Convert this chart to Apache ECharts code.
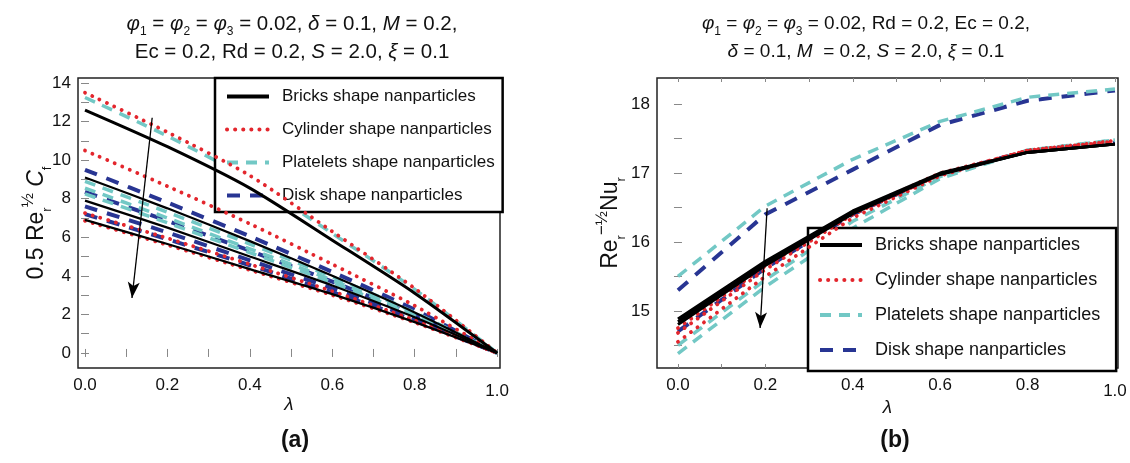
<!DOCTYPE html>
<html><head><meta charset="utf-8">
<script src="https://cdn.jsdelivr.net/npm/echarts@6/dist/echarts.min.js"></script>
<style>html,body{margin:0;padding:0;background:#fff}#c{width:1130px;height:463px}</style>
</head><body><div id="c"></div>
<script>
// ---------- data ----------
const lambda = [0, 0.2, 0.4, 0.6, 0.8, 1.0];
const xTickLabels = [0, 0.2, 0.4, 0.6, 0.8, 1.0];
const xTicks = [0, 0.1, 0.2, 0.3, 0.4, 0.5, 0.6, 0.7, 0.8, 0.9, 1.0];
const cfTickLabels = [0, 2, 4, 6, 8, 10, 12, 14];
const cfTicks = [0, 1, 2, 3, 4, 5, 6, 7, 8, 9, 10, 11, 12, 13, 14];
const nuTickLabels = [15, 16, 17, 18];
const nuTicks = [14.5, 15, 15.5, 16, 16.5, 17, 17.5, 18];
const shapeNames = ['Bricks shape nanparticles', 'Cylinder shape nanparticles', 'Platelets shape nanparticles', 'Disk shape nanparticles'];

// (a) skin friction 0.5 Re^(1/2) Cf
const cfBricks = [
  [12.6, 10.7, 8.55, 5.85, 3.1, 0],
  [9.1, 7.5, 5.8, 4.0, 2.1, 0],
  [7.9, 6.5, 5.0, 3.5, 1.85, 0],
  [6.9, 5.65, 4.35, 3.05, 1.6, 0]
];
const cfCylinder = [
  [13.5, 11.45, 9.2, 6.3, 3.35, 0],
  [10.5, 8.65, 6.7, 4.6, 2.45, 0],
  [7.25, 5.95, 4.6, 3.2, 1.7, 0],
  [6.85, 5.6, 4.3, 3.0, 1.58, 0]
];
const cfPlatelets = [
  [13.25, 11.25, 9.0, 6.2, 3.3, 0],
  [8.9, 7.3, 5.65, 3.95, 2.1, 0],
  [8.55, 7.0, 5.4, 3.78, 2.0, 0],
  [8.25, 6.75, 5.2, 3.65, 1.93, 0]
];
const cfDisk = [
  [9.5, 7.8, 6.05, 4.2, 2.25, 0],
  [8.35, 6.85, 5.3, 3.7, 1.95, 0],
  [7.6, 6.25, 4.8, 3.35, 1.78, 0],
  [7.2, 5.9, 4.55, 3.15, 1.68, 0]
];
// (b) Nusselt Re^(-1/2) Nu
const nuBricks = [
  [14.88, 15.72, 16.45, 17.0, 17.3, 17.42],
  [14.84, 15.69, 16.43, 16.99, 17.3, 17.42],
  [14.8, 15.66, 16.41, 16.98, 17.3, 17.42]
];
const nuCylinder = [
  [14.75, 15.65, 16.43, 17.0, 17.32, 17.45],
  [14.68, 15.6, 16.4, 16.98, 17.33, 17.46],
  [14.55, 15.5, 16.35, 16.96, 17.33, 17.47]
];
const nuPlatelets = [
  [15.5, 16.52, 17.2, 17.75, 18.1, 18.22],
  [14.5, 15.45, 16.3, 16.95, 17.33, 17.48],
  [14.38, 15.35, 16.2, 16.92, 17.33, 17.48]
];
const nuDisk = [
  [15.3, 16.4, 17.05, 17.7, 18.05, 18.2],
  [14.7, 15.62, 16.4, 16.98, 17.32, 17.44]
];
// arrows (data coordinates)
const arrowA = [[0.163, 12.2], [0.114, 2.85]];
const arrowB = [[0.204, 16.49], [0.188, 14.75]];

// ---------- styles ----------
const FONT = '"Liberation Sans", Arial, Helvetica, sans-serif';
const styles = [
  {color: '#000000', type: 'solid', width: 3},
  {color: '#e3262d', type: [0.1, 8], width: 3.8, cap: 'round'},
  {color: '#72c8c5', type: [11, 8], width: 3.5},
  {color: '#283593', type: [13, 10], width: 4}
];
function pairs(vals) { return vals.map((v, i) => [lambda[i], v]); }

const series = [];
function addGroup(groups, xi, yi, smooth) {
  [0, 1, 2, 3].forEach(k => {
    groups[k].forEach((vals, j) => {
      const st = Object.assign({}, styles[k]);
      if (k === 0 && xi === 0 && j > 0) st.width = 2.2;
      series.push({
        type: 'line', name: shapeNames[k], xAxisIndex: xi, yAxisIndex: yi,
        data: pairs(vals), symbol: 'none', showSymbol: false, smooth: smooth,
        lineStyle: st, itemStyle: {color: st.color}, z: 2 + (3 - k),
        emphasis: {disabled: true}
      });
    });
  });
}
addGroup([cfBricks, cfCylinder, cfPlatelets, cfDisk], 0, 0, 0.25);
addGroup([nuBricks, nuCylinder, nuPlatelets, nuDisk], 2, 2, false);

function arrowSeries(pts, xi, yi) {
  return {
    type: 'line', name: '_arrow', xAxisIndex: xi, yAxisIndex: yi,
    data: pts, symbol: 'none', lineStyle: {width: 0, opacity: 0}, z: 10, silent: true,
    markLine: {
      silent: true, animation: false, symbol: ['none', 'arrow'], symbolSize: [9, 16],
      label: {show: false},
      lineStyle: {color: '#000', width: 1.3, type: 'solid'},
      emphasis: {disabled: true},
      data: [[{coord: pts[0]}, {coord: pts[1]}]]
    }
  };
}
series.push(arrowSeries(arrowA, 0, 0));
series.push(arrowSeries(arrowB, 2, 2));

const tickLabelStyle = {fontSize: 17, color: '#111', fontFamily: FONT};
function xAxes(gi, min, max, gap) {
  return [{
    type: 'value', gridIndex: gi, position: 'bottom', min: min, max: max,
    axisLine: {show: false}, splitLine: {show: false},
    axisTick: {show: true, inside: true, length: 4, customValues: xTicks, lineStyle: {color: '#888'}},
    axisLabel: Object.assign({show: true, margin: 9, customValues: xTickLabels,
      formatter: v => (Math.abs(v - 1) < 1e-9 ? '{d|1.0}' : v.toFixed(1)),
      rich: {d: {fontSize: 17, color: '#111', fontFamily: FONT, padding: [6, 0, 0, 0]}}}, tickLabelStyle),
    name: 'λ', nameLocation: 'middle', nameGap: gap, nameMoveOverlap: false,
    nameTextStyle: {fontSize: 19, fontStyle: 'italic', color: '#111', fontFamily: FONT}
  }, {
    type: 'value', gridIndex: gi, position: 'top', min: min, max: max,
    axisLine: {show: false}, splitLine: {show: false},
    axisTick: {show: true, inside: true, length: 4, customValues: xTicks, lineStyle: {color: '#888'}},
    axisLabel: {show: false}
  }];
}
function yAxes(gi, min, max, labels, ticks, name, gap, rich) {
  return [{
    type: 'value', gridIndex: gi, position: 'left', min: min, max: max,
    axisLine: {show: false}, splitLine: {show: false},
    axisTick: {show: true, inside: true, length: 4, customValues: ticks, lineStyle: {color: '#888'}},
    axisLabel: Object.assign({show: true, margin: 7, customValues: labels, formatter: v => String(Math.round(v))}, tickLabelStyle),
    name: name, nameLocation: 'middle', nameGap: gap, nameRotate: 90, nameMoveOverlap: false,
    nameTextStyle: {fontSize: 23, color: '#111', fontFamily: FONT, lineHeight: 34, rich: rich}
  }, {
    type: 'value', gridIndex: gi, position: 'right', min: min, max: max,
    axisLine: {show: false}, splitLine: {show: false},
    axisTick: {show: true, inside: true, length: 4, customValues: ticks, lineStyle: {color: '#888'}},
    axisLabel: {show: false}
  }];
}
const nameRich = {
  s: {fontSize: 13, lineHeight: 17, verticalAlign: 'bottom', color: '#111', fontFamily: FONT},
  p: {fontSize: 17, lineHeight: 17, verticalAlign: 'top', color: '#111', fontFamily: FONT},
  i: {fontSize: 23, lineHeight: 34, fontStyle: 'italic', color: '#111', fontFamily: FONT}
};
function titleRich(fs) {
  return {
    i: {fontSize: fs, lineHeight: 28, fontStyle: 'italic', color: '#111', fontFamily: FONT},
    s: {fontSize: 12, lineHeight: 17, verticalAlign: 'bottom', color: '#111', fontFamily: FONT}
  };
}
function titleText(l1, l2, x, fs) {
  return {
    text: l1 + '\n' + l2, left: x, top: 5, textAlign: 'center',
    textStyle: {fontSize: fs, lineHeight: 28, fontWeight: 'normal', color: '#111', fontFamily: FONT, rich: titleRich(fs)}
  };
}
function legendFor(left, top, pad, gap, fs) {
  return {
    left: left, top: top, orient: 'vertical', data: shapeNames,
    itemWidth: 42, itemHeight: 14, itemGap: gap, padding: pad,
    backgroundColor: '#fff', borderColor: '#000', borderWidth: 2.5, borderRadius: 0,
    selectedMode: false,
    itemStyle: {opacity: 0, borderWidth: 0},
    lineStyle: {width: 4},
    textStyle: {fontSize: fs, color: '#111', fontFamily: FONT, padding: [0, 0, 0, 8]}
  };
}

const option = {
  animation: false,
  backgroundColor: '#fff',
  title: [
    titleText('{i|φ}{s|1} = {i|φ}{s|2} = {i|φ}{s|3} = 0.02, {i|δ} = 0.1, {i|M} = 0.2,',
              'Ec = 0.2, Rd = 0.2, {i|S} = 2.0, {i|ξ} = 0.1', 287, 20.5),
    titleText('{i|φ}{s|1} = {i|φ}{s|2} = {i|φ}{s|3} = 0.02, Rd = 0.2, Ec = 0.2,',
              '{i|δ} = 0.1, {i|M}  = 0.2, {i|S} = 2.0, {i|ξ} = 0.1', 861, 19),
    {text: '(a)', left: 290, top: 424, textAlign: 'center', textStyle: {fontSize: 23, fontWeight: 'bold', color: '#111', fontFamily: FONT}},
    {text: '(b)', left: 890, top: 424, textAlign: 'center', textStyle: {fontSize: 23, fontWeight: 'bold', color: '#111', fontFamily: FONT}}
  ],
  legend: [legendFor(215, 78, [10, 8, 8, 10], 16, 17), legendFor(808, 228, [8, 16, 12, 10], 17, 18)],
  grid: [
    {left: 78, top: 78, width: 422, height: 290, show: true, borderColor: '#222', borderWidth: 1.5, backgroundColor: 'transparent'},
    {left: 657, top: 78, width: 461, height: 290, show: true, borderColor: '#222', borderWidth: 1.5, backgroundColor: 'transparent'}
  ],
  xAxis: [].concat(xAxes(0, -0.017, 1.007, 27), xAxes(1, -0.048, 1.007, 30)),
  yAxis: [].concat(
    yAxes(0, -0.78, 14.26, cfTickLabels, cfTicks, '0.5 Re{s|r}{p|½} {i|C}{s|f}', 24, nameRich),
    yAxes(1, 14.17, 18.38, nuTickLabels, nuTicks, 'Re{s|r}{p|−½}Nu{s|r}', 29, nameRich)
  ),
  series: series
};
const chart = echarts.init(document.getElementById('c'), null, {renderer: 'canvas'});
chart.setOption(option);
</script></body></html>
